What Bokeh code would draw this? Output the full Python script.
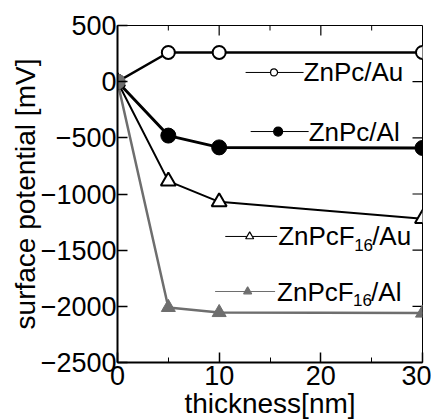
import math
from bokeh.plotting import figure
from bokeh.models import Range1d, FixedTicker
from bokeh.core.properties import value
from bokeh.embed import file_html
from bokeh.resources import INLINE

# ---- data ----
thickness = [0, 5, 10, 30]
znpc_au = [0, 260, 260, 260]
znpc_al = [0, -480, -585, -590]
f16_au = [0, -885, -1070, -1220]
f16_al = [0, -2010, -2055, -2060]

x_ticks = [0, 10, 20, 30]
x_minor = [5, 15, 25]
y_ticks = [500, 0, -500, -1000, -1500, -2000, -2500]

FONT = value("Liberation Sans")
GRAY = "#6e6e6e"
X0, X1, Y0, Y1 = 0, 30, -2500, 500

p = figure(frame_width=305, frame_height=337, output_backend="svg", toolbar_location=None,
           x_range=Range1d(X0, X1), y_range=Range1d(Y0, Y1),
           min_border_left=117, min_border_top=25, min_border_right=9, min_border_bottom=50,
           background_fill_color="white", border_fill_color="white")
p.outline_line_color = "black"
p.outline_line_width = 1
p.xgrid.visible = False
p.ygrid.visible = False

for ax in (p.xaxis[0], p.yaxis[0]):
    ax.axis_line_width = 2
    ax.axis_line_color = "black"
    ax.major_tick_in = 10
    ax.major_tick_out = 0
    ax.minor_tick_in = 5
    ax.minor_tick_out = 0
    ax.major_tick_line_width = 1.5
    ax.minor_tick_line_width = 1
    ax.major_label_text_font = "Liberation Sans"
    ax.major_label_text_font_size = "27px"
    ax.major_label_text_color = "black"
    ax.axis_label_text_font = "Liberation Sans"
    ax.axis_label_text_font_style = "normal"
    ax.axis_label_text_color = "black"

p.xaxis.ticker = FixedTicker(ticks=x_ticks, minor_ticks=x_minor)
p.yaxis.ticker = FixedTicker(ticks=y_ticks, minor_ticks=[])
p.xaxis.axis_label = "thickness[nm]"
p.yaxis.axis_label = "surface potential [mV]"
p.xaxis.axis_label_text_font_size = "28px"
p.yaxis.axis_label_text_font_size = "28px"
p.xaxis.major_label_standoff = 3
p.yaxis.major_label_standoff = 1
p.xaxis.axis_label_standoff = 0
p.yaxis.axis_label_standoff = -3

# inward ticks on the top and right frame edges
p.ray(x=x_ticks[1:-1], y=[Y1] * (len(x_ticks) - 2), length=10, angle=-math.pi / 2,
      length_units="screen", line_color="black", line_width=1.2)
p.ray(x=x_minor, y=[Y1] * len(x_minor), length=5, angle=-math.pi / 2,
      length_units="screen", line_color="black", line_width=1)
p.ray(x=[X1] * (len(y_ticks) - 2), y=y_ticks[1:-1], length=10, angle=math.pi,
      length_units="screen", line_color="black", line_width=1.2)

# ---- series ----
p.line(thickness, f16_al, line_color=GRAY, line_width=2.5)
p.scatter(thickness, f16_al, marker="triangle", size=14, fill_color=GRAY, line_color=GRAY)

p.line(thickness, f16_au, line_color="black", line_width=2)
p.scatter(thickness, f16_au, marker="triangle", size=15, fill_color="white", line_color="black", line_width=2)

p.line(thickness, znpc_al, line_color="black", line_width=3)
p.scatter(thickness, znpc_al, marker="circle", size=15, fill_color="black", line_color="black")

p.line(thickness, znpc_au, line_color="black", line_width=2.5)
p.scatter(thickness, znpc_au, marker="circle", size=13, fill_color="white", line_color="black", line_width=2)

# origin blob (all series overlap there)
p.scatter([thickness[0]], [f16_al[0]], marker="circle", size=15, fill_color=GRAY, line_color=GRAY)

# ---- manual legend (layout positions in data units) ----
legend = [
    # line x0, x1, y, marker x, marker, fill, color, text x, main, sub, tail, marker size
    (12.6, 18.3, 82, 15.4, "circle", "white", "black", 18.3, "ZnPc/Au", "", "", 7),
    (13.1, 18.8, -444, 15.8, "circle", "black", "black", 18.8, "ZnPc/Al", "", "", 9),
    (10.6, 15.7, -1378, 13.0, "triangle", "white", "black", 15.8, "ZnPcF", "16", "/Au", 8),
    (9.6, 15.5, -1868, 12.8, "triangle", GRAY, GRAY, 15.7, "ZnPcF", "16", "/Al", 8),
]
for (x0, x1, y, mx, mk, fill, col, tx, main, sub, tail, ms) in legend:
    p.line([x0, x1], [y, y], line_color=col, line_width=1)
    p.scatter([mx], [y], marker=mk, size=ms, fill_color=fill, line_color=col, line_width=1.2)
    p.text([tx], [y], text=[main], text_font=FONT, text_font_size="26px",
           text_baseline="middle", text_align="left", text_color="black")
    if sub:
        p.text([tx], [y - 75], text=[sub], text_font=FONT, text_font_size="17px",
               text_baseline="middle", text_align="left", text_color="black", x_offset=76)
        p.text([tx], [y], text=[tail], text_font=FONT, text_font_size="26px",
               text_baseline="middle", text_align="left", text_color="black", x_offset=94)

open("out.html", "w").write(file_html(p, INLINE))
